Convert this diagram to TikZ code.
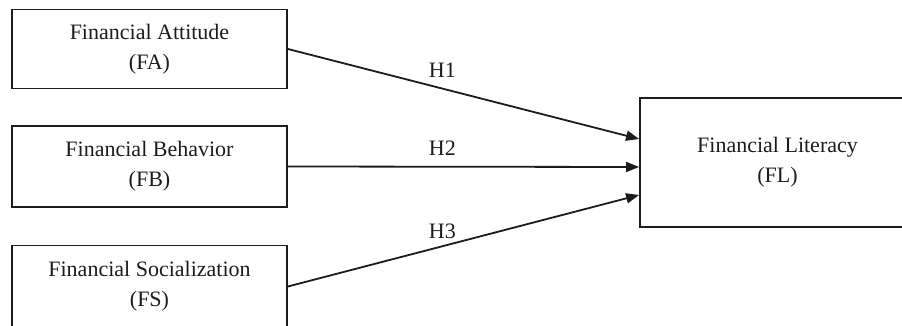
\documentclass[tikz,border=0pt]{standalone}
\usepackage{fontspec}
\setmainfont{Liberation Serif}
\usepackage{xcolor}
\usetikzlibrary{arrows.meta, positioning, calc}
\definecolor{dark}{RGB}{28, 28, 28}
\tikzset{
    box/.style={rectangle, draw=dark, line width=0.9pt, align=center, text=dark, font=\fontsize{11}{15}\selectfont, minimum width=137.5pt, inner sep=0pt},
    hyp/.style={font=\fontsize{11}{13}\selectfont, text=dark, inner sep=2pt},
    arr/.style={-{Triangle[length=6.5pt, width=5pt]}, line width=0.9pt, dark}
}

\begin{document}
\begin{tikzpicture}[x=0.5pt, y=-0.5pt]
    \clip (0,0) rectangle (902,326);
    \fill[white] (0,0) rectangle (902,326);
    % left side
    \node[box, minimum height=39.5pt] (fa) at (149.5,49) {Financial Attitude\\(FA)};
    \node[box, minimum height=40.5pt] (fb) at (149.5,166.5) {Financial Behavior\\(FB)};
    \node[box, minimum height=41pt] (fs) at (149.5,286.5) {Financial Socialization\\(FS)};
    % right side
    \node[box, minimum height=64.5pt] (fl) at (777.5,162.5) {Financial Literacy\\(FL)};
    \coordinate (in1) at ($(fl.west)+(0,-23.5)$);
    \coordinate (in2) at ($(fl.west)+(0,4.5)$);
    \coordinate (in3) at ($(fl.west)+(0,32.5)$);
    \draw[arr] (fa.east) -- node[hyp, pos=0.44, above=3pt] (h1) {H1} (in1);
    \draw[arr] (fb.east) -- node[hyp, pos=0.44, above=3pt] (h2) {H2} (in2);
    \draw[arr] (fs.east) -- node[hyp, pos=0.44, above=1.5pt] (h3) {H3} (in3);
\end{tikzpicture}
\end{document}
